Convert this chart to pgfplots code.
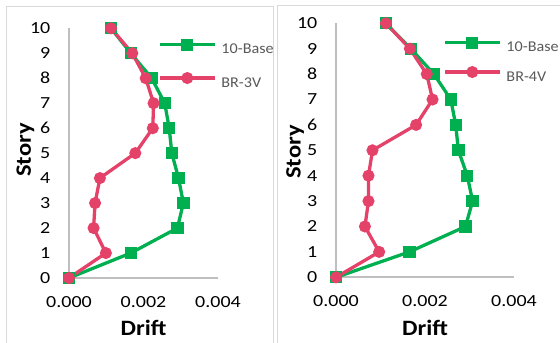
\documentclass[border=0pt]{standalone}
\usepackage{pgfplots}
\pgfplotsset{compat=1.18}
\usepackage{fontspec}
\setmainfont{Carlito}
\newfontfamily\tickfont{Carlito}[FakeStretch=1.18]
\newfontfamily\legfont{Carlito}[FakeStretch=1.08]
\newfontfamily\labfont{Carlito}[FakeStretch=1.12]
\definecolor{cgreen}{RGB}{0,176,80}
\definecolor{cred}{RGB}{229,66,106}
\definecolor{axgray}{RGB}{191,191,191}
\definecolor{bordergray}{RGB}{217,217,217}
\definecolor{legtext}{RGB}{89,89,89}

\pgfplotsset{
  drift/.style={
    scale only axis, clip=false,
    xmin=0,xmax=0.004,ymin=0,ymax=10,
    xtick={0,0.002,0.004}, ytick={0,1,...,10},
    scaled x ticks=false,
    axis lines=left,
    axis line style={draw=axgray, line width=2.2bp, -},
    major tick length=0pt,
    /pgf/number format/assume math mode=true,
    xticklabel style={/pgf/number format/.cd, fixed, fixed zerofill, precision=3, /tikz/.cd,
      font=\tickfont\fontsize{17}{20}\selectfont, anchor=center, yshift=-24bp, inner sep=0pt},
    yticklabel style={font=\tickfont\fontsize{17}{20}\selectfont, anchor=east, inner sep=0pt, xshift=-18.5bp},
    label style={font=\labfont\fontsize{22}{25}\selectfont\bfseries},
    legend style={draw=none, fill=none, inner sep=0pt, column sep=5bp,
      nodes={inner sep=0pt, text height=12bp, text depth=4bp, text=legtext, font=\legfont\fontsize{15}{18}\selectfont}},
    legend cell align=left,
    legend image code/.code={\draw[mark repeat=2,mark phase=2,#1] plot coordinates {(0bp,5bp) (27.5bp,5bp) (55bp,5bp)};},
  },
  baseline/.style={color=cgreen, line width=3.3bp, mark=square*, mark size=4.5bp, mark options={solid}},
  brline/.style={color=cred, line width=3.3bp, mark=*, mark size=4.3bp, mark options={solid}},
}

\begin{document}
\begin{tikzpicture}
\useasboundingbox (0,0) rectangle (560bp,343bp);
\draw[bordergray, line width=1bp] (6bp,-5bp) rectangle (273bp,336bp);
\draw[bordergray, line width=1bp] (277bp,-5bp) rectangle (575bp,337bp);

\begin{axis}[drift, at={(69bp,65bp)}, anchor=south west, width=149bp, height=249.7bp,
  xlabel={Drift}, ylabel={Story},
  xlabel style={at={(rel axis cs:0.5,-0.198)}, anchor=center},
  ylabel style={at={(rel axis cs:-0.292,0.513)}, anchor=center},
  legend style={at={(rel axis cs:0.597,0.953)}, anchor=north west, row sep=16bp}]
\addplot[baseline] coordinates {(0,0) (0.00166,1) (0.00291,2) (0.00307,3) (0.00294,4) (0.00276,5) (0.00269,6) (0.00257,7) (0.00222,8) (0.00166,9) (0.00113,10)};
\addlegendentry{10-Base}
\addplot[brline] coordinates {(0,0) (0.00099,1) (0.00066,2) (0.00070,3) (0.00083,4) (0.00178,5) (0.00225,6) (0.00227,7) (0.00206,8) (0.00170,9) (0.00113,10)};
\addlegendentry{BR-3V}
\end{axis}

\begin{axis}[drift, at={(336bp,65.7bp)}, anchor=south west, width=178bp, height=254bp,
  xlabel={Drift}, ylabel={Story},
  xlabel style={at={(rel axis cs:0.5,-0.2)}, anchor=center},
  ylabel style={at={(rel axis cs:-0.230,0.493)}, anchor=center},
  legend style={at={(rel axis cs:0.601,0.942)}, anchor=north west, row sep=12bp}]
\addplot[baseline] coordinates {(0,0) (0.00165,1) (0.00291,2) (0.00307,3) (0.00295,4) (0.00275,5) (0.00269,6) (0.00258,7) (0.00220,8) (0.00168,9) (0.00112,10)};
\addlegendentry{10-Base}
\addplot[brline] coordinates {(0,0) (0.00097,1) (0.00065,2) (0.00073,3) (0.00073,4) (0.00082,5) (0.00180,6) (0.00217,7) (0.00204,8) (0.00166,9) (0.00112,10)};
\addlegendentry{BR-4V}
\end{axis}
\end{tikzpicture}
\end{document}
